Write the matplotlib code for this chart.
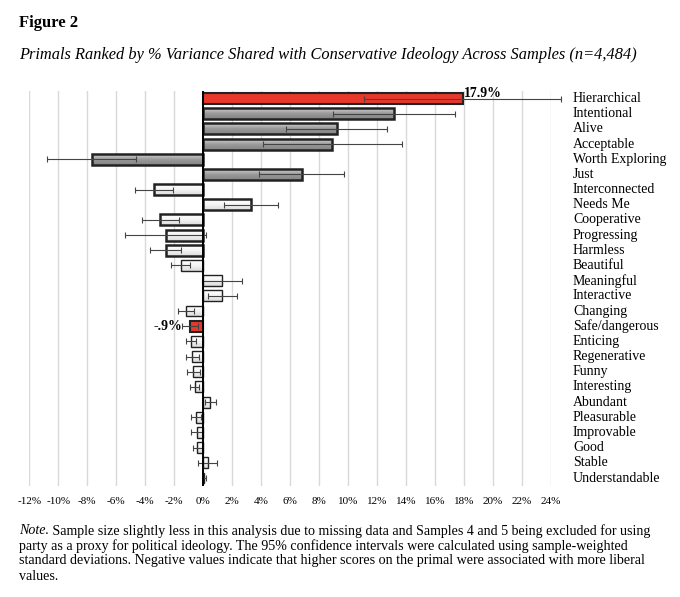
import numpy as np
import matplotlib
matplotlib.use("Agg")
import matplotlib.pyplot as plt
from matplotlib.colors import LinearSegmentedColormap

# =============================================================================
# Data, top to bottom
# =============================================================================
primals = ["Hierarchical", "Intentional", "Alive", "Acceptable", "Worth Exploring",
           "Just", "Interconnected", "Needs Me", "Cooperative", "Progressing",
           "Harmless", "Beautiful", "Meaningful", "Interactive", "Changing",
           "Safe/dangerous", "Enticing", "Regenerative", "Funny", "Interesting",
           "Abundant", "Pleasurable", "Improvable", "Good", "Stable",
           "Understandable"]
variance = [17.9, 13.15, 9.2, 8.9, -7.7, 6.8, -3.4, 3.3, -2.95, -2.6,
            -2.6, -1.55, 1.3, 1.3, -1.2, -0.9, -0.85, -0.75, -0.7, -0.6,
            0.5, -0.5, -0.45, -0.4, 0.3, 0.08]
ci95 = [6.8, 4.2, 3.5, 4.8, 3.05, 2.95, 1.3, 1.85, 1.28, 2.8,
        1.07, 0.64, 1.38, 1.0, 0.54, 0.56, 0.35, 0.44, 0.45, 0.31,
        0.37, 0.37, 0.36, 0.32, 0.64, 0.12]
# bar style group: r = highlighted, g = gray, w = white
group = ["r", "g", "g", "g", "g", "g", "w", "w", "w", "w",
         "w", "w", "w", "w", "w", "r", "w", "w", "w", "w",
         "w", "w", "w", "w", "w", "w"]
xticks = list(range(-12, 25, 2))

# =============================================================================
# Figure
# =============================================================================
serif = "Liberation Serif"
plt.rcParams["font.family"] = [serif, "DejaVu Serif"]

fig = plt.figure(figsize=(6.8, 5.97), dpi=100)
ax = fig.add_axes([0.0431, 0.1866, 0.7672, 0.6611])

gray_cm = LinearSegmentedColormap.from_list("g", ["#d0d0d0", "#999999", "#858585"])
white_cm = LinearSegmentedColormap.from_list("w", ["#ffffff", "#f4f4f4", "#dcdcdc"])
grad = np.linspace(0, 1, 32).reshape(-1, 1)

y = np.arange(len(primals))
h = 0.72
for i, (v, g) in enumerate(zip(variance, group)):
    x0, x1 = min(0, v), max(0, v)
    if g == "r":
        ax.barh(i, v, height=h, color="#e8372b", edgecolor="#222222", linewidth=1.5, zorder=3)
        continue
    cm = gray_cm if g == "g" else white_cm
    ax.imshow(grad, cmap=cm, aspect="auto", extent=[x0, x1, i + h / 2, i - h / 2],
              zorder=2, interpolation="bilinear")
    lw = 1.8 if i < 11 else 1.0
    ax.barh(i, v, height=h, facecolor="none", edgecolor="#222222", linewidth=lw, zorder=3)

eb = ax.errorbar(variance, y, xerr=ci95, fmt="none", ecolor="#444444", elinewidth=0.8,
                 capsize=2.5, capthick=0.8, zorder=4)
for part in eb.lines[1] + eb.lines[2]:
    part.set_clip_on(False)

ax.axvline(0, color="black", linewidth=1.4, zorder=5)

ax.set_xlim(-12, 24)
ax.set_ylim(len(primals) - 0.5, -0.5)
ax.set_xticks(xticks)
ax.set_xticklabels([f"{t}%" for t in xticks], fontsize=8)
ax.tick_params(axis="x", length=0, pad=8)
ax.set_yticks([])
ax.grid(axis="x", color="#d9d9d9", linewidth=1, zorder=0)
ax.set_axisbelow(True)
for s in ax.spines.values():
    s.set_visible(False)

# primal names on the right
trans = ax.get_yaxis_transform()
for i, name in enumerate(primals):
    ax.text(1.0 + 22 / 522, i, name, transform=trans, fontsize=10,
            va="center", ha="left")

# value labels for highlighted bars
ax.text(variance[0] + 0.1, -0.35, f"{variance[0]:.1f}%", fontsize=10,
        fontweight="bold", ha="left", va="center")
ax.text(variance[15] - 0.55, 15, "-.9%", fontsize=10, fontweight="bold",
        ha="right", va="center")

# titles
fig.text(19 / 680, 1 - 22.7 / 597, "Figure 2", fontsize=12, fontweight="bold",
         va="center", ha="left")
fig.text(19 / 680, 1 - 55 / 597,
         "Primals Ranked by % Variance Shared with Conservative Ideology Across Samples (n=4,484)",
         fontsize=11.8, style="italic", va="center", ha="left")

# note
note_lines = [
    " Sample size slightly less in this analysis due to missing data and Samples 4 and 5 being excluded for using",
    "party as a proxy for political ideology. The 95% confidence intervals were calculated using sample-weighted",
    "standard deviations. Negative values indicate that higher scores on the primal were associated with more liberal",
    "values.",
]
note_y = [530.7, 545.7, 560.5, 576]
nfs = 10.05
t = fig.text(19 / 680, 1 - note_y[0] / 597, "Note.", fontsize=nfs, style="italic",
             va="center", ha="left")
renderer = fig.canvas.get_renderer()
w = t.get_window_extent(renderer).width / fig.bbox.width
fig.text(19 / 680 + w, 1 - note_y[0] / 597, note_lines[0], fontsize=nfs,
         va="center", ha="left")
for line, yy in zip(note_lines[1:], note_y[1:]):
    fig.text(19 / 680, 1 - yy / 597, line, fontsize=nfs, va="center", ha="left")

fig.savefig("out.png", dpi=100)
